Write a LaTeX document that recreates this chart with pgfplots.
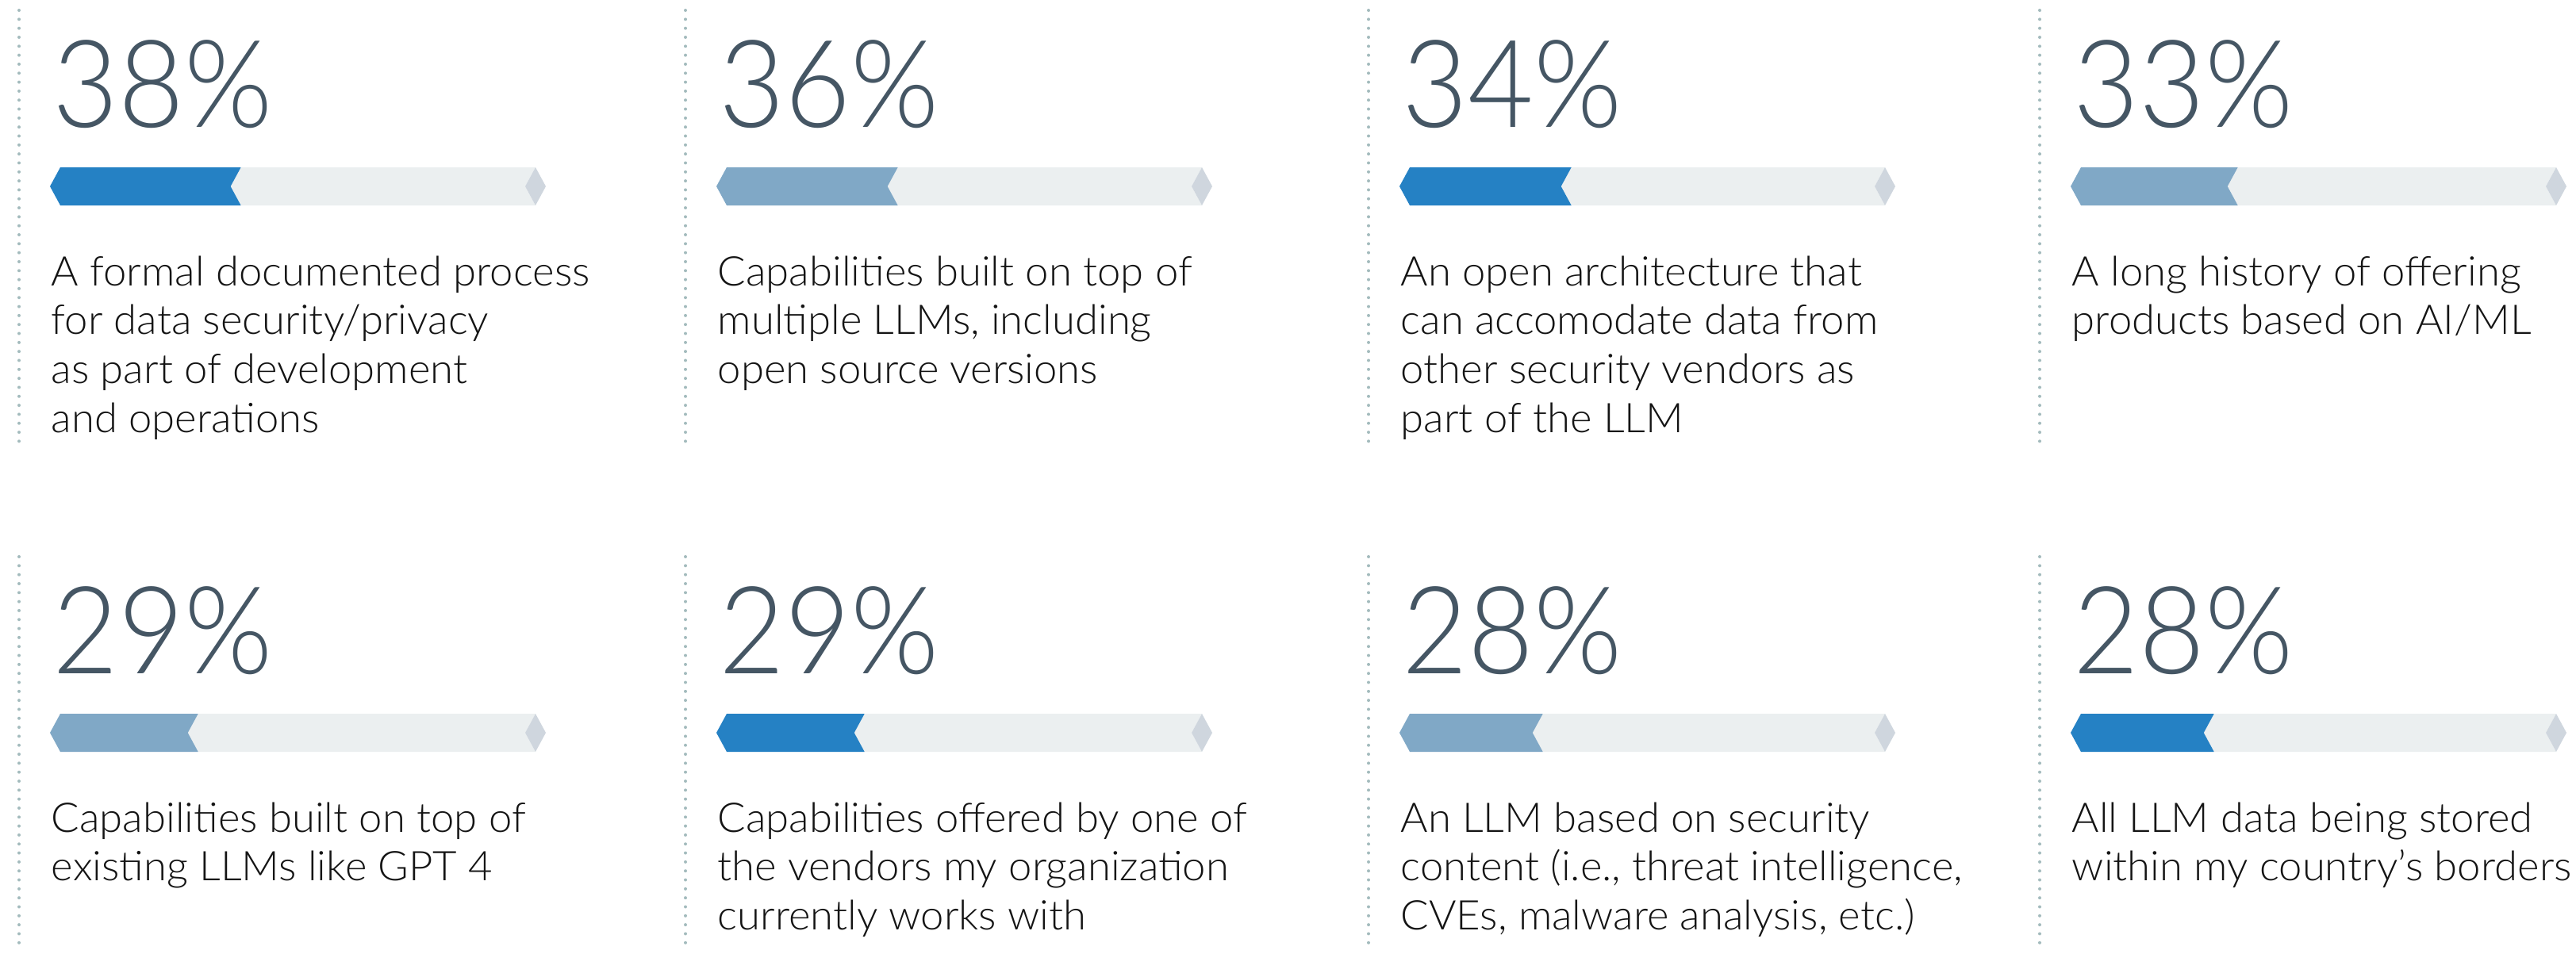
\documentclass[border=0pt]{standalone}
\usepackage{fontspec}
\IfFontExistsTF{Lato Light}{%
  \setmainfont{Lato Light}[FakeStretch=1.02]
  \newfontfamily\numfont{Lato Light}[FakeStretch=0.93]}{%
  \setmainfont{Lato}
  \newfontfamily\numfont{Lato}}
\usepackage{pgfplots}
\usepackage{pgfplotstable}
\pgfplotsset{compat=1.18}

\definecolor{bardark}{HTML}{2581C4}
\definecolor{barlight}{HTML}{80A8C6}
\definecolor{trackc}{HTML}{EBEFF0}
\definecolor{capc}{HTML}{CFD6DE}
\definecolor{numc}{HTML}{455664}
\definecolor{dotc}{HTML}{A3BBBD}

% x, y = left point and bottom edge of each bar (pixels of the reference, y down)
\pgfplotstableread{
x    y    val dark
63   259  38  1
903  259  36  0
1764 259  34  1
2610 259  33  0
63   948  29  0
903  948  29  1
1764 948  28  0
2610 948  28  1
}\panels

\pgfkeyssetvalue{/desc/0}{{A formal documented process},{for data security/privacy},{as part of development},{and operations}}
\pgfkeyssetvalue{/desc/1}{{Capabilities built on top of},{multiple LLMs, including},{open source versions}}
\pgfkeyssetvalue{/desc/2}{{An open architecture that},{can accomodate data from},{other security vendors as},{part of the LLM}}
\pgfkeyssetvalue{/desc/3}{{A long history of offering},{products based on AI/ML}}
\pgfkeyssetvalue{/desc/4}{{Capabilities built on top of},{existing LLMs like GPT 4}}
\pgfkeyssetvalue{/desc/5}{{Capabilities offered by one of},{the vendors my organization},{currently works with}}
\pgfkeyssetvalue{/desc/6}{{An LLM based on security},{content (i.e., threat intelligence,},{CVEs, malware analysis, etc.)}}
\pgfkeyssetvalue{/desc/7}{{All LLM data being stored},{within my country’s borders}}

\pgfplotsset{
  bar panel/.style={
    scale only axis, width=156.25pt, height=12pt,
    xmin=-2.17, xmax=102.17, ymin=0, ymax=1,
    axis lines=none, clip=false, anchor=south west,
  },
}

\begin{document}
\begin{tikzpicture}
\useasboundingbox (0,0) rectangle (811.75pt,-300.5pt);

% dotted column separators
\foreach \cx in {24,864,1725,2571} {
  \draw[dotc, line width=1pt, line cap=round, dash pattern=on 0pt off 2.83pt]
    ({\cx*0.25pt},{-13*0.25pt}) -- ({\cx*0.25pt},{-560*0.25pt});
  \draw[dotc, line width=1pt, line cap=round, dash pattern=on 0pt off 2.83pt]
    ({\cx*0.25pt},{-702*0.25pt}) -- ({\cx*0.25pt},{-1200*0.25pt});
}

\foreach \i in {0,...,7} {
  \pgfplotstablegetelem{\i}{x}\of\panels \let\bx\pgfplotsretval
  \pgfplotstablegetelem{\i}{y}\of\panels \let\by\pgfplotsretval
  \pgfplotstablegetelem{\i}{val}\of\panels \let\bval\pgfplotsretval
  \pgfplotstablegetelem{\i}{dark}\of\panels \let\bdark\pgfplotsretval
  \ifnum\bdark=1 \def\barc{bardark}\else\def\barc{barlight}\fi
  \pgfmathsetmacro\bnotch{\bval-2.17}

  \begin{axis}[bar panel, at={({\bx*0.25pt},{-\by*0.25pt})}]
    \addplot[fill=trackc, draw=none] coordinates {(0,0) (0,1) (100,1) (97.83,0.5) (100,0) (0,0)};
    \addplot[fill=\barc, draw=none] coordinates {(-2.17,0.5) (0,1) (\bval,1) (\bnotch,0.5) (\bval,0) (0,0) (-2.17,0.5)};
    \addplot[fill=capc, draw=none] coordinates {(97.83,0.5) (100,1) (102.17,0.5) (100,0) (97.83,0.5)};
  \end{axis}

  \node[anchor=base west, inner sep=0pt, text=numc,
        font=\numfont\fontsize{38.4pt}{40pt}\selectfont]
    at ({(\bx+3)*0.25pt},{-(\by-99)*0.25pt}) {\bval\%};

  \pgfkeysgetvalue{/desc/\i}\dlist
  \foreach \t [count=\k from 0] in \dlist {
    \node[anchor=base west, inner sep=0pt, text=black!92,
          font=\fontsize{12.9pt}{15.4pt}\selectfont]
      at ({(\bx+1)*0.25pt},{-(\by+101+61.7*\k)*0.25pt}) {\t};
  }
}
\end{tikzpicture}
\end{document}
